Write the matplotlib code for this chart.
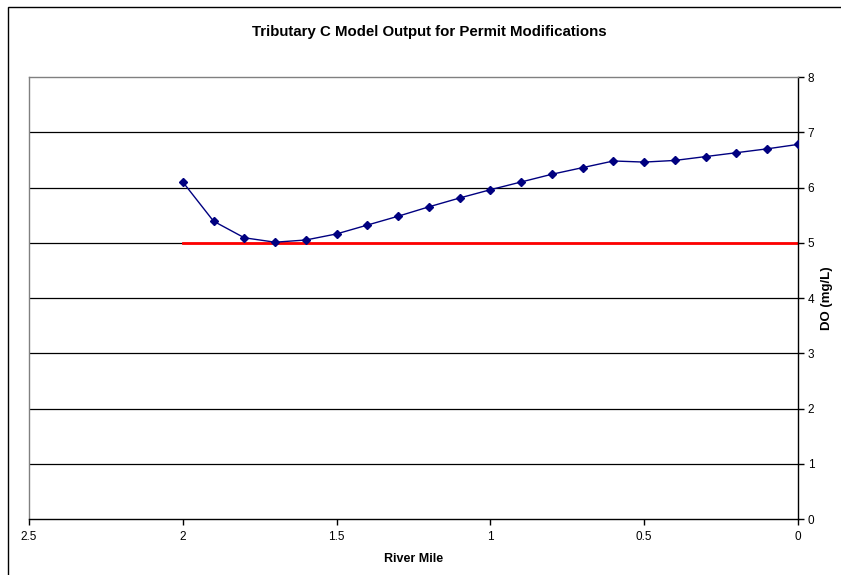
import matplotlib
matplotlib.use("Agg")
import matplotlib.pyplot as plt
from matplotlib.patches import Rectangle

plt.rcParams['font.family'] = ['Liberation Sans', 'DejaVu Sans']

# model output along the tributary
river_mile = [2.0, 1.9, 1.8, 1.7, 1.6, 1.5, 1.4, 1.3, 1.2, 1.1, 1.0,
              0.9, 0.8, 0.7, 0.6, 0.5, 0.4, 0.3, 0.2, 0.1, 0.0]
do_mgl = [6.10, 5.39, 5.09, 5.01, 5.05, 5.16, 5.32, 5.48, 5.65, 5.81, 5.96,
          6.10, 6.24, 6.36, 6.48, 6.46, 6.49, 6.56, 6.63, 6.70, 6.78]
# DO standard
std_mile = [2.0, 0.0]
std_do = [5.0, 5.0]

fig = plt.figure(figsize=(8.41, 5.75), dpi=100)
ax = fig.add_axes([29/841, 1 - 519/575, (798 - 29)/841, (519 - 77)/575])

# outer chart border (runs off right/bottom edge like the source)
fig.patches.append(Rectangle((8/841, -0.05), 1.0, 1 - 7/575 + 0.05,
                             transform=fig.transFigure, fill=False,
                             edgecolor='black', lw=1.0))

for y in range(1, 8):
    ax.axhline(y, color='black', lw=0.9, zorder=1)

ax.plot(std_mile, std_do, color='red', lw=2, zorder=2)
ax.plot(river_mile, do_mgl, color='#000080', lw=1, marker='D', ms=4, zorder=3)

ax.set_xlim(2.5, 0)
ax.set_ylim(0, 8)
ax.set_xticks([2.5, 2, 1.5, 1, 0.5, 0])
ax.set_xticklabels(['2.5', '2', '1.5', '1', '0.5', '0'])
ax.set_yticks(range(0, 9))
ax.yaxis.tick_right()
ax.yaxis.set_label_position('right')
ax.tick_params(axis='both', labelsize=8.5, length=4, width=1, direction='out')
ax.tick_params(axis='x', pad=5)
ax.tick_params(axis='y', pad=3)

for s in ['left', 'top']:
    ax.spines[s].set_color('#808080')
    ax.spines[s].set_linewidth(1)
for s in ['right', 'bottom']:
    ax.spines[s].set_color('black')
    ax.spines[s].set_linewidth(1)

ax.set_xlabel('River Mile', fontsize=9, fontweight='bold', labelpad=7)
ax.set_ylabel('DO (mg/L)', fontsize=9.5, fontweight='bold', labelpad=5)
fig.text(429/841, 1 - 32/575, 'Tributary C Model Output for Permit Modifications',
         ha='center', va='center', fontsize=10.8, fontweight='bold')

fig.savefig('out.png', dpi=100)
